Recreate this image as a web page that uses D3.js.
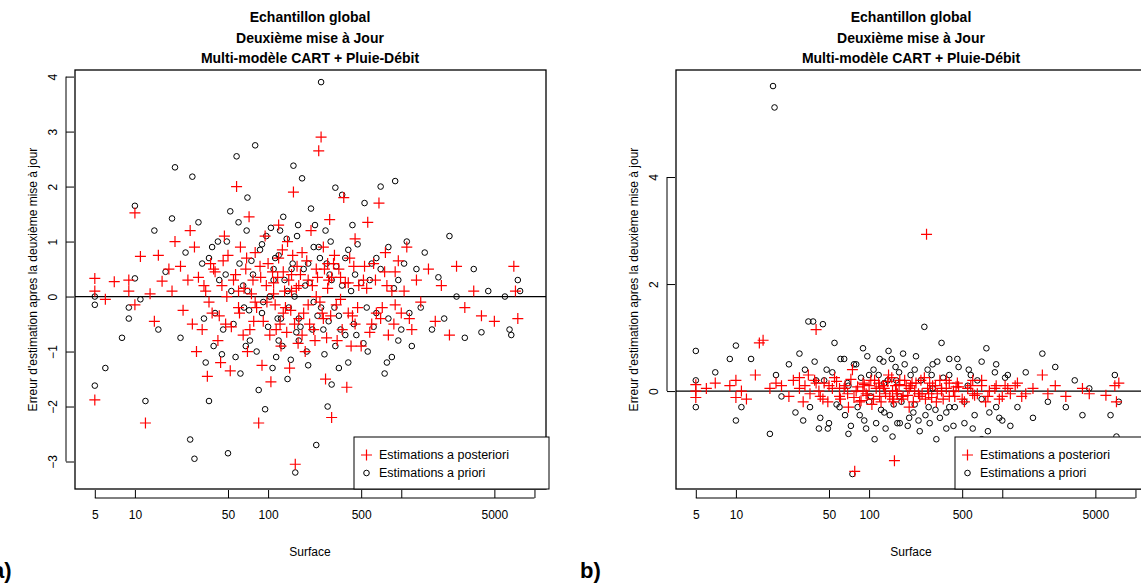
<!DOCTYPE html>
<html><head><meta charset="utf-8">
<script src="https://cdn.jsdelivr.net/npm/d3@7"></script>
<style>body{margin:0;background:#fff}text{font-family:"Liberation Sans",Arial,sans-serif}</style>
</head><body><svg id="c" width="1141" height="585"></svg>
<script>
// [surface, erreur] pairs
var leftPost = [[5,0.33],[5,0.1],[5,-1.88],[6,-0.05],[7,0.27],[9,0.1],[9,0.3],[10,1.52],[10,-0.15],[11,0.73],[12,-2.3],[13,0.05],[14,-0.45],[15,0.75],[16,0.28],[18,0.5],[19,0.1],[20,1.0],[22,0.55],[23,-0.25],[25,0.3],[26,1.2],[27,-0.5],[28,0.9],[29,-1.0],[30,0.35],[32,-0.6],[34,0.1],[35,-1.45],[37,0.6],[38,-0.3],[40,0.45],[42,-0.8],[44,-1.2],[45,0.2],[47,1.1],[48,-0.5],[50,0.75],[52,-1.35],[55,0.3],[58,2.0],[60,-0.2],[62,0.9],[65,-0.7],[68,0.5],[70,-1.0],[72,1.45],[75,0.05],[78,-0.45],[80,0.8],[85,-2.3],[88,0.35],[90,-1.25],[95,1.1],[98,-0.1],[100,0.6],[105,-1.55],[110,0.25],[115,-0.6],[120,1.3],[125,-0.9],[130,0.45],[135,-0.2],[140,1.0],[145,-1.3],[150,0.1],[155,1.9],[160,-3.05],[165,0.55],[170,-0.4],[180,0.8],[190,-1.0],[200,0.3],[210,1.2],[220,-0.6],[230,0.5],[240,2.65],[250,2.9],[255,-0.3],[260,0.9],[270,-1.5],[280,0.15],[290,1.4],[300,-2.2],[310,0.6],[330,-0.8],[350,0.35],[370,1.8],[390,-1.65],[410,0.7],[430,-0.35],[450,1.05],[480,0.2],[500,-0.9],[530,0.55],[560,1.35],[600,-0.5],[640,0.3],[680,1.7],[720,-0.2],[760,0.8],[800,-0.7],[850,0.1],[900,0.45],[1000,-0.3],[1100,0.9],[1200,-0.6],[1300,0.3],[1400,-0.1],[1600,0.5],[1800,-0.45],[2000,0.2],[2300,-0.7],[2600,0.55],[3000,-0.2],[3500,0.1],[4000,-0.35],[5000,-0.45],[7000,0.55],[7500,-0.4],[7200,0.1],[60,0.1],[80,-0.1],[110,0.05],[130,-0.3],[150,0.4],[170,0.2],[200,-0.15],[230,0.0],[260,-0.4],[300,0.35],[350,-0.05],[400,0.25],[450,-0.5],[550,0.15],[650,-0.3],[750,0.45],[900,-0.15],[120,0.7],[180,-0.7],[280,0.6],[420,-0.9]];
var leftPostCore = [[33,0.2],[36,-0.1],[39,0.5],[43,-0.35],[46,0.65],[49,0.0],[53,-0.55],[57,0.4],[61,-0.3],[66,0.15],[69,0.7],[73,-0.6],[77,0.3],[82,-0.2],[87,0.55],[92,-0.45],[97,0.2],[103,-0.7],[108,0.45],[113,-0.15],[118,0.35],[123,-0.5],[128,0.85],[133,0.1],[138,-0.65],[143,0.3],[148,-0.25],[153,0.75],[158,-0.5],[163,0.15],[168,-0.85],[175,0.4],[185,-0.3],[195,0.65],[205,-0.5],[215,0.2],[225,-0.8],[235,0.35],[245,-0.1],[265,0.5],[275,-0.75],[285,0.3],[295,-0.35],[315,0.75],[325,-0.15],[340,0.5],[360,-0.6],[380,0.25],[400,-0.3],[440,0.55],[470,-0.2],[520,0.3],[580,-0.65],[620,0.6],[700,-0.4],[780,0.2],[880,-0.5],[950,0.65],[1050,0.1],[1150,-0.4]];
var leftPrior = [[5,0.0],[5,-0.15],[5,-1.62],[6,-1.3],[8,-0.75],[9,-0.2],[9,-0.4],[10,1.65],[10,0.33],[11,-0.05],[12,-1.9],[14,1.2],[15,-0.6],[17,0.45],[19,1.42],[20,2.35],[22,-0.75],[24,0.8],[26,-2.6],[27,2.18],[28,-2.95],[30,1.35],[32,0.6],[34,-1.2],[36,-1.9],[38,0.9],[40,-0.3],[42,1.0],[45,-1.05],[48,0.4],[50,-2.85],[52,1.55],[55,-0.5],[58,2.55],[60,1.35],[62,-1.4],[65,0.2],[68,-0.9],[70,1.8],[72,-0.25],[75,0.65],[80,2.75],[85,-1.7],[90,0.95],[95,-2.05],[100,-0.55],[105,1.25],[110,0.3],[115,-1.1],[120,0.75],[125,-0.4],[130,1.45],[140,-1.5],[150,0.5],[155,2.38],[160,-3.2],[165,1.1],[170,-0.8],[180,2.15],[190,0.2],[200,-1.25],[210,1.6],[220,-0.1],[230,-2.7],[240,0.9],[250,3.9],[260,-0.6],[270,1.2],[280,-2.0],[290,0.4],[300,-1.6],[320,1.98],[340,-0.35],[360,1.85],[380,0.7],[400,-1.2],[430,1.3],[460,-0.7],[500,0.25],[530,1.7],[560,-1.0],[600,0.6],[650,-0.3],[700,2.0],[750,-1.4],[800,0.9],[850,-1.1],[900,2.1],[950,0.3],[1000,-0.6],[1100,1.0],[1200,-0.9],[1300,0.5],[1400,-0.2],[1500,0.8],[1700,-0.6],[1900,0.35],[2100,-0.4],[2300,1.1],[2600,0.0],[3000,-0.75],[3500,0.5],[4000,-0.65],[4500,0.1],[6000,0.0],[6500,-0.6],[6700,-0.7],[7500,0.3],[7800,0.1],[70,0.1],[90,-0.3],[110,0.5],[140,0.1],[170,-0.4],[200,0.6],[250,-0.2],[300,0.3],[350,-0.6],[450,0.4],[550,-0.2],[650,0.7],[800,-0.4],[120,-0.8],[220,0.9],[320,-0.9],[420,0.1]];
var leftPriorCore = [[33,-0.4],[36,0.7],[39,-0.9],[43,0.3],[46,-0.6],[49,1.0],[53,0.1],[57,-1.1],[61,0.6],[66,-0.2],[69,1.2],[73,-0.8],[77,0.4],[82,-1.0],[87,0.85],[92,-0.1],[97,1.1],[103,0.0],[108,-1.3],[113,0.7],[118,-0.4],[123,1.2],[128,-0.9],[133,0.3],[138,1.05],[143,-0.2],[148,-1.15],[153,0.6],[158,0.0],[163,-0.65],[168,1.3],[175,-0.55],[185,0.5],[195,-1.0],[205,0.25],[215,-0.6],[225,1.3],[235,-0.35],[245,0.7],[265,-1.05],[275,0.6],[285,-0.45],[295,1.0],[315,-0.2],[325,0.55],[340,-1.3],[360,0.2],[380,-0.7],[400,0.85],[440,-0.5],[470,0.95],[520,-0.85],[580,0.3],[620,-0.55],[700,0.5],[780,-1.2],[880,0.15],[950,-0.8],[1050,0.6],[1150,-0.3]];
var rightPost = [[5,0.0],[5,-0.12],[5,0.12],[6,0.05],[7,0.15],[9,0.1],[10,0.2],[10,-0.12],[11,0.0],[12,-0.15],[14,0.3],[15,0.9],[16,0.95],[18,0.05],[20,0.15],[22,0.1],[25,-0.1],[27,0.2],[30,0.05],[32,-0.2],[35,0.3],[40,1.15],[42,0.0],[45,-0.15],[50,0.1],[55,0.25],[60,-0.1],[65,0.05],[70,-0.3],[75,0.4],[78,-1.5],[80,0.0],[85,-0.2],[90,0.15],[95,-0.05],[100,0.1],[105,-0.25],[110,0.2],[120,-0.1],[130,0.05],[140,0.3],[150,-0.15],[155,-1.3],[160,0.0],[170,0.2],[180,-0.1],[190,0.1],[200,-0.3],[210,0.15],[220,0.0],[240,-0.1],[260,0.25],[270,2.93],[280,-0.05],[300,0.1],[320,-0.2],[350,0.05],[380,0.2],[400,-0.1],[430,0.0],[460,0.15],[500,-0.15],[550,0.05],[600,0.2],[650,-0.05],[700,0.1],[750,-0.2],[800,0.0],[900,0.1],[1000,-0.1],[1100,0.05],[1300,0.15],[1500,-0.05],[1700,0.05],[2000,0.3],[2200,-0.05],[2500,0.1],[3000,-0.1],[4000,0.05],[4500,-0.05],[6000,-0.08],[7000,0.1],[7500,0.15],[7200,-0.2],[60,0.05],[90,0.0],[120,0.08],[150,0.0],[200,0.05],[250,-0.05],[350,0.0],[450,0.08],[600,-0.05],[30,0.25],[40,0.15]];
var rightPostCore = [[33,0.1],[36,-0.05],[39,0.2],[43,-0.1],[46,0.15],[49,-0.2],[53,0.05],[57,0.18],[61,-0.15],[66,0.1],[69,-0.05],[73,0.22],[77,-0.12],[82,0.08],[87,-0.18],[92,0.12],[97,-0.08],[103,0.2],[108,-0.15],[113,0.05],[118,0.15],[123,-0.2],[128,0.1],[133,-0.05],[138,0.18],[143,-0.1],[148,0.25],[153,-0.2],[158,0.1],[163,-0.05],[168,0.12],[175,-0.15],[185,0.2],[195,-0.08],[205,0.1],[215,-0.2],[225,0.15],[235,-0.05],[245,0.2],[265,-0.15],[275,0.05],[285,0.15],[295,-0.12],[315,0.1],[325,-0.05],[340,0.2],[360,-0.15],[380,0.05],[400,0.15],[440,-0.1],[470,0.08],[520,-0.2],[580,0.1],[620,-0.08],[700,0.2],[780,-0.1],[880,0.05],[950,-0.15],[1050,0.1],[1150,-0.05],[1250,0.1],[1400,-0.1]];
var rightPrior = [[5,0.75],[5,0.2],[5,-0.3],[7,0.35],[9,0.6],[10,-0.55],[10,0.85],[11,-0.3],[13,0.6],[19,5.7],[19.5,5.3],[18,-0.8],[20,0.3],[22,-0.1],[25,0.5],[28,-0.4],[30,0.7],[32,-0.55],[35,1.3],[38,1.3],[40,0.2],[42,-0.7],[45,1.25],[48,0.4],[50,-0.6],[55,0.9],[60,-0.3],[65,0.6],[70,-0.8],[75,-1.55],[80,0.5],[85,-0.45],[90,0.8],[95,-0.7],[100,0.3],[110,-0.9],[120,0.6],[130,-0.4],[140,0.75],[150,-0.85],[160,0.2],[170,-0.6],[180,0.7],[200,-0.5],[220,0.4],[240,-0.75],[260,1.2],[280,-0.3],[300,0.5],[320,-0.9],[350,0.9],[380,-0.4],[400,0.3],[430,-0.65],[460,0.6],[490,-1.0],[520,-0.2],[560,0.4],[600,-0.7],[650,0.2],[700,-0.9],[760,0.8],[800,-0.4],[900,0.5],[1000,-0.55],[1100,0.3],[1300,-0.3],[1500,0.35],[1700,-0.5],[2000,0.7],[2200,-0.2],[2500,0.45],[3000,-0.3],[3500,0.2],[4000,-0.45],[4500,0.05],[6500,-0.45],[7000,0.3],[7200,-0.85],[7500,-0.2],[70,0.1],[100,-0.2],[130,0.15],[170,-0.1],[220,-0.25],[300,0.05],[400,-0.3],[550,0.1],[700,-0.15],[900,-0.3]];
var rightPriorCore = [[33,0.4],[36,-0.3],[39,0.55],[43,-0.5],[46,0.2],[49,-0.7],[53,0.35],[57,-0.25],[61,0.6],[66,-0.45],[69,0.15],[73,-0.65],[77,0.5],[82,-0.3],[87,0.25],[92,-0.55],[97,0.65],[103,-0.1],[108,0.4],[113,-0.6],[118,0.3],[123,-0.35],[128,0.55],[133,-0.7],[138,0.2],[143,-0.45],[148,0.6],[153,-0.25],[158,0.45],[163,-0.6],[168,0.35],[175,-0.2],[185,0.5],[195,-0.65],[205,0.3],[215,-0.4],[225,0.65],[235,-0.55],[245,0.2],[265,-0.45],[275,0.4],[285,-0.6],[295,0.3],[315,-0.35],[325,0.55],[340,-0.5],[360,0.25],[380,-0.7],[400,0.6],[440,-0.3],[470,0.45],[520,-0.6],[580,0.3],[620,-0.45],[700,0.55],[780,-0.75],[880,0.35],[950,-0.5],[1050,0.25],[1150,-0.65]];
var xTicks = [5, 10, 50, 100, 500, 1000, 5000, 10000];
var xLabels = {5:"5", 10:"10", 50:"50", 100:"100", 500:"500", 5000:"5000"};
var titleLines = ["Echantillon global", "Deuxième mise à Jour", "Multi-modèle CART + Pluie-Débit"];
var legendLabels = ["Estimations a posteriori", "Estimations a priori"];

var svg = d3.select("#c");

function drawPanel(left, right, yDomain, yTicks, post, prior, tag) {
  var top = 70, bottom = 489;
  var x = d3.scaleLog().domain([3.55, 12000]).range([left, left + 470]);
  var y = d3.scaleLinear().domain(yDomain).range([bottom, top]);
  var g = svg.append("g");
  var cx = left + 235;

  //clip to the plot box
  var id = "clip" + left;
  g.append("clipPath").attr("id", id).append("rect")
    .attr("x", left).attr("y", top).attr("width", right - left).attr("height", bottom - top);
  var pg = g.append("g").attr("clip-path", "url(#" + id + ")");

  pg.append("line").attr("x1", left).attr("x2", right).attr("y1", y(0)).attr("y2", y(0))
    .attr("stroke", "#000").attr("stroke-width", 1.3);

  pg.selectAll(".prior").data(prior).enter().append("circle")
    .attr("cx", function(d) { return x(d[0]); }).attr("cy", function(d) { return y(d[1]); })
    .attr("r", 2.8).attr("fill", "none").attr("stroke", "#000").attr("stroke-width", 1);

  pg.selectAll(".post").data(post).enter().append("path")
    .attr("d", function(d) {
      var px = x(d[0]), py = y(d[1]);
      return "M" + (px - 5.5) + "," + py + "h11M" + px + "," + (py - 5.5) + "v11";
    })
    .attr("stroke", "#ff0000").attr("stroke-width", 1.2);

  g.append("rect").attr("x", left).attr("y", top).attr("width", right - left).attr("height", bottom - top)
    .attr("fill", "none").attr("stroke", "#000").attr("stroke-width", 1.3);

  //axes
  var ax = g.append("g").attr("transform", "translate(0," + (bottom + 1) + ")")
    .call(d3.axisBottom(x).tickValues(xTicks).tickSize(8).tickPadding(12)
      .tickFormat(function(d) { return xLabels[d] || ""; }));
  var ay = g.append("g").attr("transform", "translate(" + (left - 1) + ",0)")
    .call(d3.axisLeft(y).tickValues(yTicks).tickSize(8).tickFormat(d3.format("d")));
  ay.selectAll("text").attr("transform", "rotate(-90)")
    .attr("text-anchor", "middle").attr("x", 0).attr("y", -17).attr("dy", 0);
  [ax, ay].forEach(function(a) {
    a.select(".domain").remove();
    a.selectAll("line").attr("stroke", "#000");
    a.selectAll("text").attr("font-size", 12).attr("fill", "#000");
  });
  ay.append("line").attr("x1", -8).attr("x2", -8).attr("y1", y(yTicks[0])).attr("y2", y(yTicks[yTicks.length - 1])).attr("stroke", "#000");
  ax.append("line").attr("y1", 8).attr("y2", 8).attr("x1", x(5)).attr("x2", x(10000)).attr("stroke", "#000");

  titleLines.forEach(function(t, i) {
    g.append("text").attr("x", cx).attr("y", 22 + i * 20.5).attr("text-anchor", "middle")
      .attr("font-size", 14).attr("font-weight", "bold").text(t);
  });
  g.append("text").attr("x", cx).attr("y", 556).attr("text-anchor", "middle").attr("font-size", 12).text("Surface");
  g.append("text").attr("transform", "translate(" + (left - 38) + "," + ((top + bottom) / 2) + ") rotate(-90)")
    .attr("text-anchor", "middle").attr("font-size", 12).text("Erreur d'estimation apres la deuxième mise à jour");

  //legend
  var lx = left + 279, ly = bottom - 52;
  g.append("rect").attr("x", lx).attr("y", ly).attr("width", 195).attr("height", 52)
    .attr("fill", "#fff").attr("stroke", "#000").attr("stroke-width", 1);
  g.append("path").attr("d", "M" + (lx + 7) + "," + (ly + 18) + "h11M" + (lx + 12.5) + "," + (ly + 12.5) + "v11")
    .attr("stroke", "#ff0000").attr("stroke-width", 1.2);
  g.append("circle").attr("cx", lx + 12.5).attr("cy", ly + 36).attr("r", 2.8)
    .attr("fill", "none").attr("stroke", "#000");
  legendLabels.forEach(function(t, i) {
    g.append("text").attr("x", lx + 25).attr("y", ly + 22 + i * 18).attr("font-size", 12.5).text(t);
  });

  svg.append("text").attr("x", tag[1]).attr("y", 578).attr("font-size", 22).attr("font-weight", "bold").text(tag[0]);
}

drawPanel(75, 546, [-3.5, 4.12], [-3, -2, -1, 0, 1, 2, 3, 4], leftPost.concat(leftPostCore), leftPrior.concat(leftPriorCore), ["a)", -8]);
drawPanel(676, 1147, [-1.83, 6.0], [0, 2, 4], rightPost.concat(rightPostCore), rightPrior.concat(rightPriorCore), ["b)", 580]);
</script></body></html>
